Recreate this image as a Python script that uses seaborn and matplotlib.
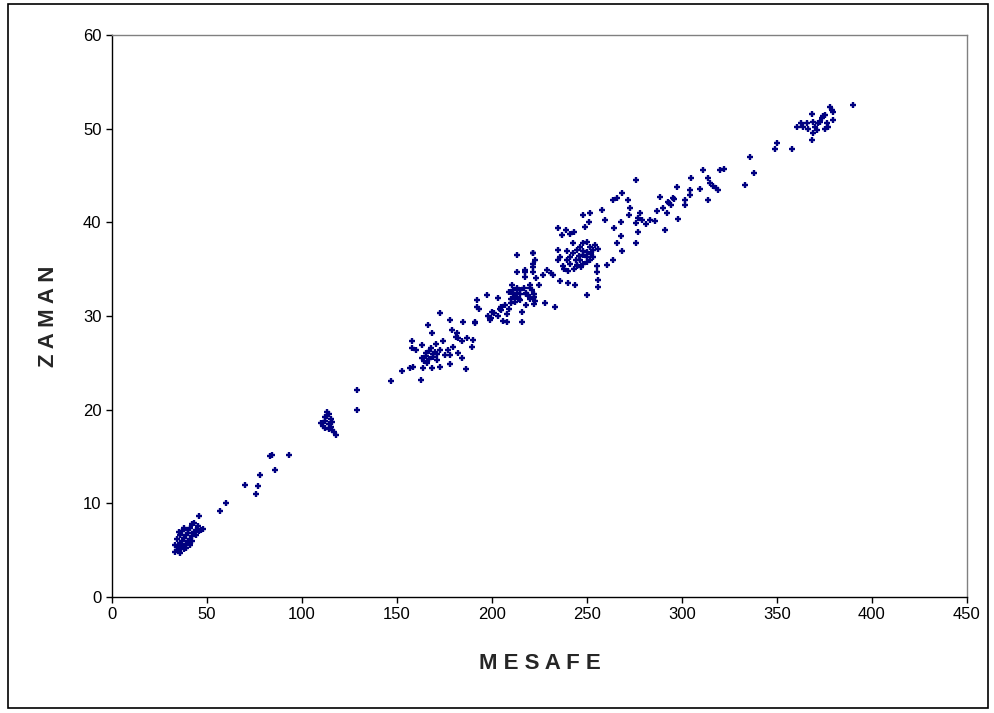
import numpy as np
import pandas as pd
import matplotlib
matplotlib.use("Agg")
import matplotlib.pyplot as plt
import seaborn as sns
from matplotlib.patches import Rectangle

mesafe_a = [33, 34, 35, 36, 35, 36, 37, 38, 37, 38, 39, 40, 41, 39, 40, 42, 43, 44, 45, 46,
            47, 48, 41, 42, 43, 36, 37, 35, 34, 33, 38, 40, 44, 39, 41, 42, 36, 34, 46, 45]
zaman_a = [4.8, 5.0, 4.9, 5.2, 5.5, 5.8, 5.4, 5.1, 6.0, 6.3, 5.7, 6.0, 6.2, 6.6, 6.8, 6.5, 6.9, 7.1, 7.2, 7.0,
           7.2, 7.3, 7.4, 7.8, 7.9, 6.6, 7.0, 6.9, 6.2, 5.6, 7.4, 7.2, 6.6, 5.2, 5.6, 6.0, 4.7, 5.3, 8.7, 7.6]

mesafe_b = [57, 60, 70, 76, 77, 78, 83, 84, 86, 93]
zaman_b = [9.2, 10.0, 12.0, 11.0, 11.9, 13.0, 15.0, 15.2, 13.6, 15.2]

mesafe_c = [110, 111, 112, 112, 113, 113, 114, 114, 115, 115, 116, 116, 117, 118, 112, 114, 129, 129, 147]
zaman_c = [18.6, 18.3, 18.0, 18.8, 19.3, 19.8, 18.5, 17.9, 18.2, 19.0, 18.7, 17.8, 17.6, 17.3, 19.2, 19.5, 22.1, 20.0, 23.1]

mesafe_d = [162.5, 152.5, 156.8, 158.2, 163, 165, 167, 169, 171, 168.2, 172.6, 177.9, 184, 186.3,
            182.3, 177, 174.4, 179.6, 181.4, 181, 182, 184, 189.3, 186.7, 190.2, 191, 191, 184.9,
            177.9, 172.6, 166.5, 168.2, 157.7, 160, 163, 157.9, 178.8, 172.6, 175.2, 170, 171,
            177.9, 163.9, 165, 167, 169, 164, 166, 168, 170.5]
zaman_d = [23.2, 24.1, 24.5, 24.6, 25.5, 25.7, 25.4, 25.6, 25.3, 24.4, 24.6, 24.9, 25.5, 24.3,
           26.0, 26.4, 27.3, 26.7, 28.2, 27.8, 27.7, 27.3, 26.7, 27.6, 27.4, 29.2, 29.4, 29.4,
           29.6, 30.3, 29.0, 28.2, 27.3, 26.4, 26.9, 26.6, 28.5, 26.4, 25.8, 26.2, 25.9,
           25.8, 24.4, 26.0, 26.3, 25.9, 25.2, 25.0, 26.6, 27.0]

mesafe_e = [192, 192, 193, 197.2, 199, 199.5, 203.3, 204, 205, 207, 209, 207.7, 211, 213, 215,
            218, 210.4, 213, 213, 217.4, 221.5, 221.5, 221.5, 220, 222, 221, 216, 216, 222.4,
            210, 212, 201, 203, 205, 206, 208, 210, 212, 214, 215, 217, 219, 220, 222, 218, 213,
            209, 211, 198, 200]
zaman_e = [31.7, 31.0, 30.8, 32.2, 29.6, 29.8, 31.9, 30.7, 31.0, 31.2, 30.8, 29.4, 32.3, 32.5, 32.4,
           32.3, 33.3, 34.7, 36.5, 34.7, 36.7, 35.5, 34.7, 33.3, 32.0, 32.8, 30.4, 29.4, 31.6,
           31.8, 31.5, 30.3, 30.0, 30.6, 29.5, 30.2, 31.4, 32.0, 31.8, 32.8, 33.0, 32.2, 31.8, 31.3,
           31.2, 33.0, 32.6, 32.8, 30.0, 30.4]

mesafe_f = [234.9, 237, 239, 241, 243, 248, 251.6, 249, 251, 257.7, 259.5, 263.9, 265.6, 268.2,
            271.6, 272.6, 272, 264, 268, 266, 268, 276, 276, 277, 278, 279, 277, 276, 268.2, 263.9,
            260.3, 255.5, 256, 255.8, 249.8, 236, 240, 243.5, 233.2, 227.9, 234.9, 234.9, 221.8,
            221.8, 222.5, 217.4, 217.4, 227, 229, 231, 232, 223, 225, 215, 218, 220, 222]
zaman_f = [39.4, 38.6, 39.2, 38.8, 39.0, 40.8, 41.0, 39.5, 40.0, 41.3, 40.2, 42.4, 42.6, 43.1,
           42.4, 41.5, 40.8, 39.4, 40.0, 37.8, 38.5, 44.5, 39.9, 40.5, 41.0, 40.2, 39.0, 37.8, 36.9, 36.0,
           35.4, 34.7, 33.8, 33.1, 32.2, 33.7, 33.5, 33.3, 31.0, 31.4, 36.0, 37.0, 35.2,
           36.7, 36.0, 34.2, 34.9, 34.4, 34.9, 34.6, 34.4, 34.1, 33.3, 31.7, 32.5, 33.0, 32.3]

mesafe_g = [239.3, 241, 242.8, 244.6, 246.3, 248, 249.8, 251.6, 253.3, 246.3, 248, 244.6, 241,
            237.5, 249.8, 251.6, 253.3, 248, 242.8, 255.1, 239.3, 235.8, 243, 245, 247, 250, 252,
            238, 240, 244, 246, 248, 250, 254, 256]
zaman_g = [36.0, 36.3, 36.7, 37.0, 37.4, 37.8, 37.9, 37.4, 37.0, 36.0, 35.6, 35.3, 35.6,
           35.3, 36.3, 36.0, 36.3, 36.9, 37.8, 35.3, 36.9, 36.3, 35.0, 35.4, 35.2, 35.8, 36.6,
           35.0, 34.8, 36.0, 36.4, 36.5, 36.8, 37.6, 37.2]

mesafe_h = [288.4, 292.8, 295.4, 297.2, 290.2, 291.9, 298.1, 285.8, 291, 293, 294, 296, 301.6,
            301.6, 304.2, 304.2, 305, 309.5, 311.2, 313.8, 313.8, 315, 316.5, 318, 319, 320, 322,
            333.2, 335.8, 337.9, 349, 350, 358, 283, 281, 287]
zaman_h = [42.7, 42.2, 42.6, 43.8, 41.5, 41.0, 40.4, 40.1, 39.2, 42.1, 41.9, 42.5, 41.8,
           42.4, 42.9, 43.5, 44.7, 43.6, 45.6, 44.7, 42.4, 44.2, 43.9, 43.7, 43.5, 45.6, 45.7,
           44.0, 47.0, 45.3, 47.8, 48.5, 47.8, 40.2, 39.8, 41.2]

mesafe_i = [360.4, 362.9, 363.8, 365.6, 366.5, 368.2, 369.1, 370, 370.9, 371.7, 372.6, 373.5,
            374.4, 375.3, 376.2, 377, 377.9, 378.8, 379.6, 379.6, 375.3, 369.1, 368.2, 390]
zaman_i = [50.2, 50.6, 50.2, 50.6, 50.0, 51.6, 50.7, 50.2, 49.9, 50.6, 50.7, 51.1,
           51.3, 51.5, 50.6, 50.2, 52.3, 52.0, 51.8, 50.9, 50.0, 49.5, 48.8, 52.5]

mesafe = mesafe_a + mesafe_b + mesafe_c + mesafe_d + mesafe_e + mesafe_f + mesafe_g + mesafe_h + mesafe_i
zaman = zaman_a + zaman_b + zaman_c + zaman_d + zaman_e + zaman_f + zaman_g + zaman_h + zaman_i
df = pd.DataFrame({"MESAFE": mesafe, "ZAMAN": zaman})

sns.set_style("white")
plt.rcParams["font.family"] = ["Liberation Sans", "DejaVu Sans"]

fig = plt.figure(figsize=(9.94, 7.13), dpi=100)
ax = fig.add_axes([0.1127, 0.1627, 0.8601, 0.7882])

sns.scatterplot(data=df, x="MESAFE", y="ZAMAN", marker="+", s=24, linewidth=1.7,
                color="#000080", ax=ax, legend=False)

ax.set_xlim(0, 450)
ax.set_ylim(0, 60)
ax.set_xticks(range(0, 451, 50))
ax.set_yticks(range(0, 61, 10))
ax.tick_params(axis="both", direction="out", length=4, width=1, labelsize=12,
               colors="black", bottom=True, left=True)
for side in ["left", "bottom"]:
    ax.spines[side].set_color("black")
    ax.spines[side].set_linewidth(1)
for side in ["top", "right"]:
    ax.spines[side].set_color("#808080")
    ax.spines[side].set_linewidth(1)

ax.set_xlabel("M E S A F E", fontsize=16, fontweight="bold", labelpad=22)
ax.set_ylabel("Z A M A N", fontsize=16, fontweight="bold", labelpad=17)

# outer frame around the whole chart area
fig.patches.append(Rectangle((0.008, 0.007), 0.986, 0.988, transform=fig.transFigure,
                             fill=False, edgecolor="black", linewidth=1.2))

fig.savefig("out.png", dpi=100)
